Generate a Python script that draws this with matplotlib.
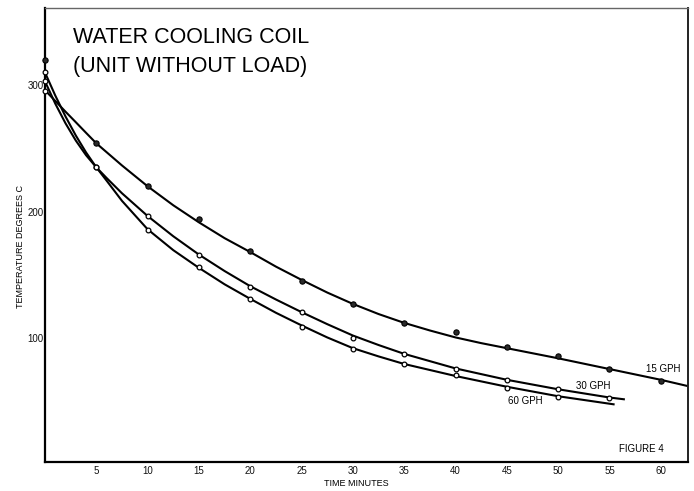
import matplotlib
matplotlib.use("Agg")
import matplotlib.pyplot as plt

# ---- data ----
# smooth curves (line), minutes vs temperature degrees C
gph15_line_t = [0, 1, 2, 3, 4, 5, 7.5, 10, 12.5, 15, 17.5, 20, 22.5, 25, 27.5, 30, 32.5, 35, 37.5, 40,
                42.5, 45, 47.5, 50, 55, 60, 62.65]
gph15_line_v = [296, 287.5, 279, 270.7, 262.3, 254, 236.5, 220, 205, 191.5, 179, 168, 156.5, 146, 136, 127,
                119, 112, 106, 100.5, 96, 92, 88, 84, 75.5, 67, 62]
gph30_line_t = [0, 1, 2, 3, 4, 5, 6, 7.5, 10, 12.5, 15, 17.5, 20, 22.5, 25, 27.5, 30, 32.5, 35, 40, 45,
                50, 55, 56.5]
gph30_line_v = [303, 285.4, 269.8, 256.2, 244.6, 235, 226.6, 214.5, 196.5, 180.5, 166, 153, 141, 130.5,
                120.5, 111, 102, 94.5, 87.5, 76, 67, 59.5, 53, 51.5]
gph60_line_t = [0, 1, 2, 3, 4, 5, 6, 7.5, 10, 12.5, 15, 17.5, 20, 22.5, 25, 27.5, 30, 32.5, 35, 40, 45,
                50, 55.5]
gph60_line_v = [310, 291.8, 275.2, 260.2, 246.8, 235, 224.5, 208.5, 186, 169.5, 155.5, 142.5, 131, 120,
                110, 100.5, 92, 85.5, 79.5, 70, 61.5, 54, 47.5]

# measured points
gph15_pts_t = [0, 5, 10, 15, 20, 25, 30, 35, 40, 45, 50, 55, 60]
gph15_pts_v = [320, 254, 220, 194, 169, 145, 127, 112, 105, 93, 86, 75.5, 66]
gph30_pts_t = [0, 5, 10, 15, 20, 25, 30, 35, 40, 45, 50, 55]
gph30_pts_v = [303, 235, 196.4, 165.6, 140.6, 120.5, 100.2, 87.1, 75.5, 66.8, 59.4, 53]
gph60_pts_t = [0, 5, 10, 15, 20, 25, 30, 35, 40, 45, 50]
gph60_pts_v = [310, 235, 185.4, 155.9, 130.6, 109, 91.3, 79.2, 70.5, 60.2, 53.6]
start15_t = [0]
start15_v = [295]

x_ticks = [5, 10, 15, 20, 25, 30, 35, 40, 45, 50, 55, 60]
y_ticks = [100, 200, 300]

title_lines = ["WATER COOLING COIL", "(UNIT WITHOUT LOAD)"]
curve_labels = ["15 GPH", "30 GPH", "60 GPH"]

# ---- figure ----
W, H = 694, 491
fig = plt.figure(figsize=(W / 100, H / 100), dpi=100)
ax = fig.add_axes([45 / W, 1 - 462 / H, (688 - 45) / W, (462 - 8) / H])
ax.set_xlim(0, 62.65)
ax.set_ylim(2, 361)

sans = ["Liberation Sans", "DejaVu Sans"]

lw = 1.5
for t, v in [(gph15_line_t, gph15_line_v), (gph30_line_t, gph30_line_v), (gph60_line_t, gph60_line_v)]:
    ax.plot(t, v, color="black", lw=lw, solid_capstyle="butt", solid_joinstyle="round")

ax.plot(gph15_pts_t, gph15_pts_v, "o", ms=3.8, mfc="#2a2a2a", mec="black", mew=0.8, ls="none", zorder=3, clip_on=False)
ax.plot(gph30_pts_t, gph30_pts_v, "o", ms=3.4, mfc="white", mec="black", mew=0.9, ls="none", zorder=3, clip_on=False)
ax.plot(gph60_pts_t, gph60_pts_v, "o", ms=3.4, mfc="white", mec="black", mew=0.9, ls="none", zorder=3, clip_on=False)
ax.plot(start15_t, start15_v, "o", ms=3.4, mfc="white", mec="black", mew=0.9, ls="none", zorder=3, clip_on=False)

ax.set_xticks(x_ticks)
ax.set_xticklabels([str(v) for v in x_ticks], fontfamily=sans, fontsize=7)
ax.set_yticks(y_ticks)
ax.set_yticklabels([str(v) for v in y_ticks], fontfamily=sans, fontsize=7)
ax.tick_params(axis="both", length=0, colors="#111111")
ax.tick_params(axis="x", pad=3)
ax.tick_params(axis="y", pad=1)

for s in ["left", "bottom"]:
    ax.spines[s].set_linewidth(1.6)
    ax.spines[s].set_color("black")
ax.spines["right"].set_linewidth(1.4)
ax.spines["right"].set_color("#222222")
ax.spines["top"].set_linewidth(1.0)
ax.spines["top"].set_color("#666666")

# titles
ax.text(2.7, 338, title_lines[0], fontsize=15.5, fontfamily=sans, va="center", ha="left", color="black")
ax.text(2.7, 315, title_lines[1], fontsize=15.5, fontfamily=sans, va="center", ha="left", color="black")

# curve labels
ax.text(60.2, 75.5, curve_labels[0], fontsize=7, fontfamily=sans, ha="center", va="center")
ax.text(53.4, 62, curve_labels[1], fontsize=7, fontfamily=sans, ha="center", va="center")
ax.text(46.8, 50.2, curve_labels[2], fontsize=7, fontfamily=sans, ha="center", va="center")
ax.text(58.1, 12.3, "FIGURE 4", fontsize=7, fontfamily=sans, ha="center", va="center")

# axis labels
fig.text(356 / W, 1 - 483 / H, "TIME MINUTES", fontsize=6.5, fontfamily=sans, ha="center", va="center")
fig.text(20.5 / W, 1 - 246 / H, "TEMPERATURE DEGREES C", fontsize=6.5, fontfamily=sans,
         rotation=90, ha="center", va="center")

fig.savefig("out.png", dpi=100)
